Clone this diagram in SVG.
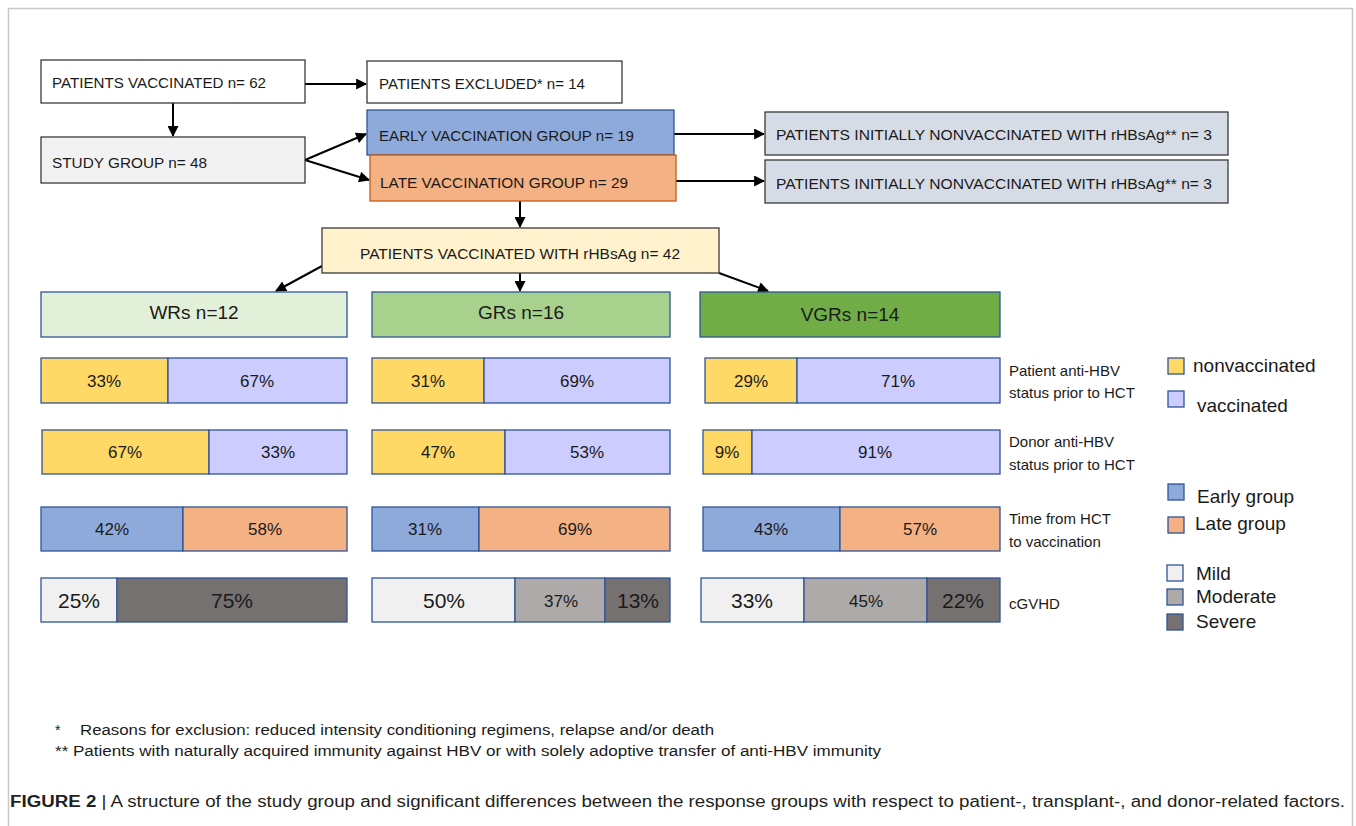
<svg xmlns="http://www.w3.org/2000/svg" width="1356" height="826" viewBox="0 0 1356 826">
<style>
text{font-family:"Liberation Sans",Arial,sans-serif;fill:#1a1a1a}
.box{stroke:#3a3a3a;stroke-width:1.3}
.t{font-size:15px}
.bar{stroke:#2f5597;stroke-width:1.3}
.p{font-size:17px;text-anchor:middle}
.g{font-size:21px;text-anchor:middle}
.lab{font-size:15px}
.leg{font-size:19px}
.conn{stroke:#000;stroke-width:2;fill:none;marker-end:url(#ah)}
.ny{fill:#ffd966}.nv{fill:#ccccff}.ne{fill:#8eaadb}.nl{fill:#f4b183}.m1{fill:#f0f0f0}.m2{fill:#aeaaaa}.m3{fill:#767171}
</style>
<defs>
<marker id="ah" viewBox="0 0 10 10" refX="9" refY="5" markerWidth="6" markerHeight="5.5" orient="auto" markerUnits="strokeWidth">
<path d="M0,0 L10,5 L0,10 z" fill="#000"/>
</marker>
</defs>
<rect width="1356" height="826" fill="#fff"/>
<path d="M8.5,826 V8.5 H1352.5 V826" fill="none" stroke="#c8c8c8" stroke-width="1.5"/>

<g id="connectors">
<line class="conn" x1="305" y1="84" x2="366" y2="84"/>
<line class="conn" x1="173" y1="103" x2="173" y2="136"/>
<line class="conn" x1="305" y1="160" x2="366" y2="134"/>
<line class="conn" x1="305" y1="160" x2="369" y2="180"/>
<line class="conn" x1="674" y1="134" x2="764" y2="134"/>
<line class="conn" x1="676" y1="181" x2="764" y2="181"/>
<line class="conn" x1="520" y1="201" x2="520" y2="227"/>
<line class="conn" x1="322" y1="266" x2="276" y2="291"/>
<line class="conn" x1="520" y1="273" x2="520" y2="291"/>
<line class="conn" x1="719" y1="273" x2="768" y2="291"/>
</g>

<g id="n-vaccinated"><rect class="box" x="41" y="60" width="264" height="43" fill="#fff"/><text class="t" x="52" y="88" textLength="214" lengthAdjust="spacingAndGlyphs">PATIENTS VACCINATED n= 62</text></g>
<g id="n-excluded"><rect class="box" x="367" y="61" width="255" height="42" fill="#fff"/><text class="t" x="379" y="89" textLength="206" lengthAdjust="spacingAndGlyphs">PATIENTS EXCLUDED* n= 14</text></g>
<g id="n-study"><rect class="box" x="41" y="137" width="264" height="46" fill="#f2f2f2"/><text class="t" x="52" y="168" textLength="155" lengthAdjust="spacingAndGlyphs">STUDY GROUP n= 48</text></g>
<g id="n-early"><rect x="367" y="110" width="307" height="45" fill="#8eaadb" stroke="#2f5597" stroke-width="1.3"/><text class="t" x="379" y="141" textLength="255" lengthAdjust="spacingAndGlyphs">EARLY VACCINATION GROUP n= 19</text></g>
<g id="n-late"><rect x="370" y="155" width="306" height="46" fill="#f4b183" stroke="#c55a11" stroke-width="1.3"/><text class="t" x="380" y="188" textLength="248" lengthAdjust="spacingAndGlyphs">LATE VACCINATION GROUP n= 29</text></g>
<g id="n-init1"><rect class="box" x="765" y="112" width="463" height="43" fill="#d6dce5"/><text class="t" x="776" y="140" textLength="436" lengthAdjust="spacingAndGlyphs">PATIENTS INITIALLY NONVACCINATED WITH rHBsAg** n= 3</text></g>
<g id="n-init2"><rect class="box" x="765" y="160" width="463" height="43" fill="#d6dce5"/><text class="t" x="776" y="189" textLength="436" lengthAdjust="spacingAndGlyphs">PATIENTS INITIALLY NONVACCINATED WITH rHBsAg** n= 3</text></g>
<g id="n-rhbsag"><rect x="322" y="228" width="397" height="45" fill="#fff2cc" stroke="#3a3a3a" stroke-width="1.3"/><text class="t" x="360" y="259" textLength="320" lengthAdjust="spacingAndGlyphs">PATIENTS VACCINATED WITH rHBsAg n= 42</text></g>

<g id="n-wr"><rect class="bar" x="41" y="292" width="306" height="45" fill="#e2f0d9"/><text x="194" y="319" font-size="19" text-anchor="middle">WRs n=12</text></g>
<g id="n-gr"><rect class="bar" x="372" y="292" width="298" height="45" fill="#a9d18e"/><text x="521" y="319" font-size="19" text-anchor="middle">GRs n=16</text></g>
<g id="n-vgr"><rect class="bar" x="700" y="292" width="300" height="45" fill="#70ad47"/><text x="850" y="321" font-size="19" text-anchor="middle">VGRs n=14</text></g>

<g id="row-patient">
<rect class="bar ny" x="41" y="358" width="127" height="45"/><rect class="bar nv" x="168" y="358" width="179" height="45"/>
<text class="p" x="104" y="387">33%</text><text class="p" x="257" y="387">67%</text>
<rect class="bar ny" x="372" y="358" width="112" height="45"/><rect class="bar nv" x="484" y="358" width="186" height="45"/>
<text class="p" x="428" y="387">31%</text><text class="p" x="577" y="387">69%</text>
<rect class="bar ny" x="705" y="358" width="92" height="45"/><rect class="bar nv" x="797" y="358" width="203" height="45"/>
<text class="p" x="751" y="387">29%</text><text class="p" x="898" y="387">71%</text>
<text class="lab" x="1009" y="376">Patient anti-HBV</text><text class="lab" x="1009" y="398">status prior to HCT</text>
</g>
<g id="row-donor">
<rect class="bar ny" x="42" y="430" width="167" height="44"/><rect class="bar nv" x="209" y="430" width="138" height="44"/>
<text class="p" x="125" y="458">67%</text><text class="p" x="278" y="458">33%</text>
<rect class="bar ny" x="372" y="430" width="133" height="44"/><rect class="bar nv" x="505" y="430" width="165" height="44"/>
<text class="p" x="438" y="458">47%</text><text class="p" x="587" y="458">53%</text>
<rect class="bar ny" x="703" y="430" width="49" height="44"/><rect class="bar nv" x="752" y="430" width="248" height="44"/>
<text class="p" x="727" y="458">9%</text><text class="p" x="875" y="458">91%</text>
<text class="lab" x="1009" y="447">Donor anti-HBV</text><text class="lab" x="1009" y="470">status prior to HCT</text>
</g>
<g id="row-time">
<rect class="bar ne" x="41" y="507" width="142" height="44"/><rect class="bar nl" x="183" y="507" width="164" height="44"/>
<text class="p" x="112" y="535">42%</text><text class="p" x="265" y="535">58%</text>
<rect class="bar ne" x="372" y="507" width="107" height="44"/><rect class="bar nl" x="479" y="507" width="191" height="44"/>
<text class="p" x="425" y="535">31%</text><text class="p" x="575" y="535">69%</text>
<rect class="bar ne" x="703" y="507" width="137" height="44"/><rect class="bar nl" x="840" y="507" width="160" height="44"/>
<text class="p" x="771" y="535">43%</text><text class="p" x="920" y="535">57%</text>
<text class="lab" x="1009" y="524">Time from HCT</text><text class="lab" x="1009" y="547">to vaccination</text>
</g>
<g id="row-cgvhd">
<rect class="bar m1" x="41" y="578" width="76" height="44"/><rect class="bar m3" x="117" y="578" width="230" height="44"/>
<text class="g" x="79" y="608">25%</text><text class="g" x="232" y="608">75%</text>
<rect class="bar m1" x="372" y="578" width="143" height="44"/><rect class="bar m2" x="515" y="578" width="90" height="44"/><rect class="bar m3" x="605" y="578" width="65" height="44"/>
<text class="g" x="444" y="608">50%</text><text x="561" y="607" font-size="17" text-anchor="middle" fill="#333">37%</text><text class="g" x="638" y="608">13%</text>
<rect class="bar m1" x="701" y="578" width="103" height="44"/><rect class="bar m2" x="804" y="578" width="123" height="44"/><rect class="bar m3" x="927" y="578" width="73" height="44"/>
<text class="g" x="752" y="608">33%</text><text x="866" y="607" font-size="17" text-anchor="middle" fill="#333">45%</text><text class="g" x="963" y="608">22%</text>
<text class="lab" x="1009" y="609">cGVHD</text>
</g>

<g id="legend">
<rect class="bar ny" x="1168" y="358" width="16" height="16"/><text class="leg" x="1193" y="372">nonvaccinated</text>
<rect class="bar nv" x="1168" y="391" width="16" height="16"/><text class="leg" x="1197" y="412">vaccinated</text>
<rect class="bar ne" x="1168" y="484" width="16" height="16"/><text class="leg" x="1197" y="503">Early group</text>
<rect class="bar nl" x="1168" y="517" width="16" height="16"/><text class="leg" x="1195" y="530">Late group</text>
<rect class="bar m1" x="1167" y="565" width="16" height="16"/><text class="leg" x="1196" y="580">Mild</text>
<rect class="bar m2" x="1167" y="589" width="16" height="16"/><text class="leg" x="1196" y="603">Moderate</text>
<rect class="bar m3" x="1167" y="614" width="16" height="16"/><text class="leg" x="1196" y="628">Severe</text>
</g>

<g id="footnotes">
<text x="55" y="735" font-size="14">*</text>
<text x="80" y="735" font-size="14" textLength="634" lengthAdjust="spacingAndGlyphs">Reasons for exclusion: reduced intensity conditioning regimens, relapse and/or death</text>
<text x="55" y="756" font-size="14" textLength="826" lengthAdjust="spacingAndGlyphs">** Patients with naturally acquired immunity  against HBV or with solely adoptive transfer of anti-HBV immunity</text>
</g>
<g id="caption">
<text x="10" y="807" font-size="16" fill="#231f20" textLength="1335" lengthAdjust="spacingAndGlyphs"><tspan font-weight="bold" fill="#231f20">FIGURE 2</tspan><tspan fill="#231f20"> | A structure of the study group and significant differences between the response groups with respect to patient-, transplant-, and donor-related factors.</tspan></text>
</g>
</svg>
